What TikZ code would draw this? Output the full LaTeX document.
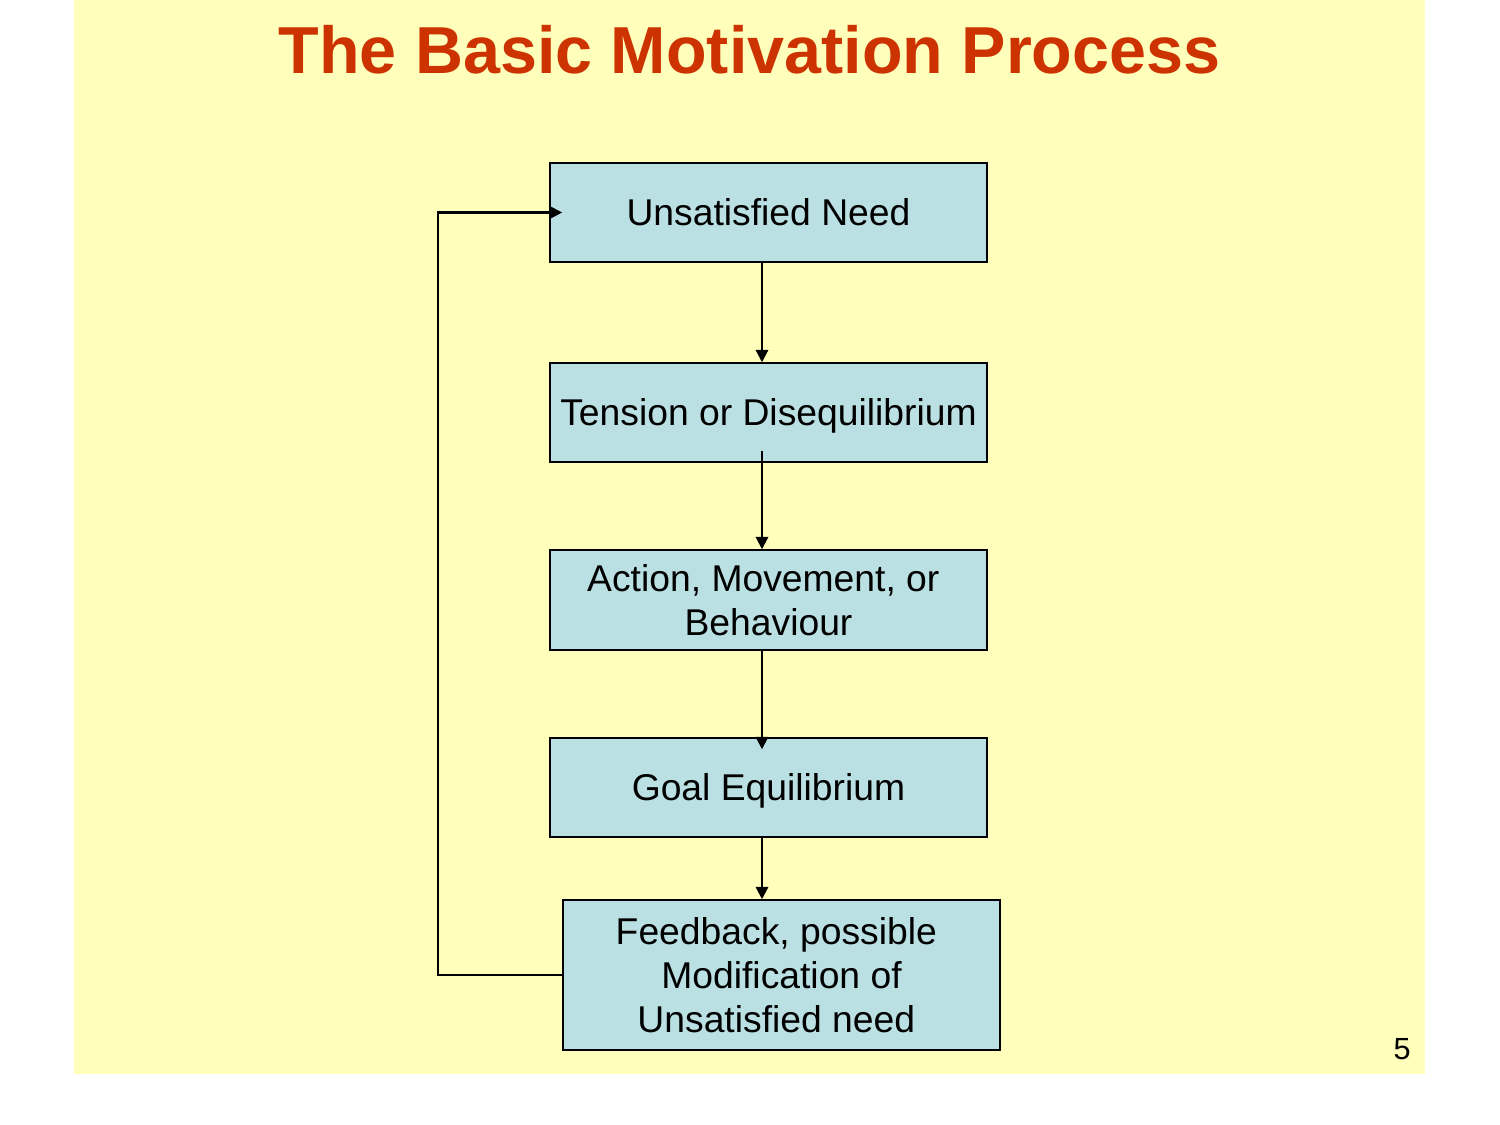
\documentclass[tikz,border=0pt]{standalone}
\usepackage{fontspec}
\setmainfont{Liberation Sans}
\usetikzlibrary{arrows.meta,calc,positioning}
\definecolor{slideyellow}{RGB}{255,255,187}
\definecolor{boxblue}{RGB}{187,224,227}
\definecolor{titlered}{RGB}{204,51,0}
\newcommand{\tailsp}{\hspace*{.278em}}

\begin{document}
\begin{tikzpicture}[x=.01cm,y=-.01cm,>={Triangle[length=3.5pt,width=3.5pt]},
  stagebox/.style={draw,fill=boxblue,line width=.4pt,minimum width=4.37cm,minimum height=.99cm,
    align=center,inner sep=0pt,font=\fontsize{10.6}{12.6}\selectfont},
  oneline/.style={text height=.716em,text depth=0pt},
  flow/.style={->,line width=.6pt}]
\useasboundingbox (0,0) rectangle (1500,1125);
\fill[slideyellow] (74,0) rectangle (1425,1074);
\node[font=\fontsize{18.9}{22}\selectfont\bfseries,text=titlered] (title) at (749.5,50) {The Basic Motivation Process};
% the five stages
\node[stagebox,oneline] (need) at (768.5,212.5) {Unsatisfied Need};
\node[stagebox,oneline] (tension) at (768.5,412.5) {Tension or Disequilibrium};
\node[stagebox,minimum height=1cm] (action) at (768.5,600) {Action, Movement, or\tailsp\\Behaviour};
\node[stagebox,oneline] (goal) at (768.5,787.5) {Goal Equilibrium};
\node[stagebox,minimum height=1.5cm] (feedback) at (781.5,975) {Feedback, possible\tailsp\\Modification of\\Unsatisfied need\tailsp};
\node[font=\fontsize{8.7}{10}\selectfont] (pagenum) at (1402,1049) {5};
% connectors
\coordinate (spine) at ([xshift=-.065cm]need.south);
\coordinate (loop) at (438,0);
\draw[flow] (spine) -- (tension.north -| spine);
\draw[flow] ([yshift=.12cm]tension.south -| spine) -- (action.north -| spine);
\draw[flow] (action.south -| spine) -- ([yshift=-.12cm]goal.north -| spine);
\draw[flow] (goal.south -| spine) -- (feedback.north -| spine);
\draw[flow] (feedback.west) -- (feedback.west -| loop) |- ([xshift=.13cm]need.west);
\end{tikzpicture}
\end{document}
